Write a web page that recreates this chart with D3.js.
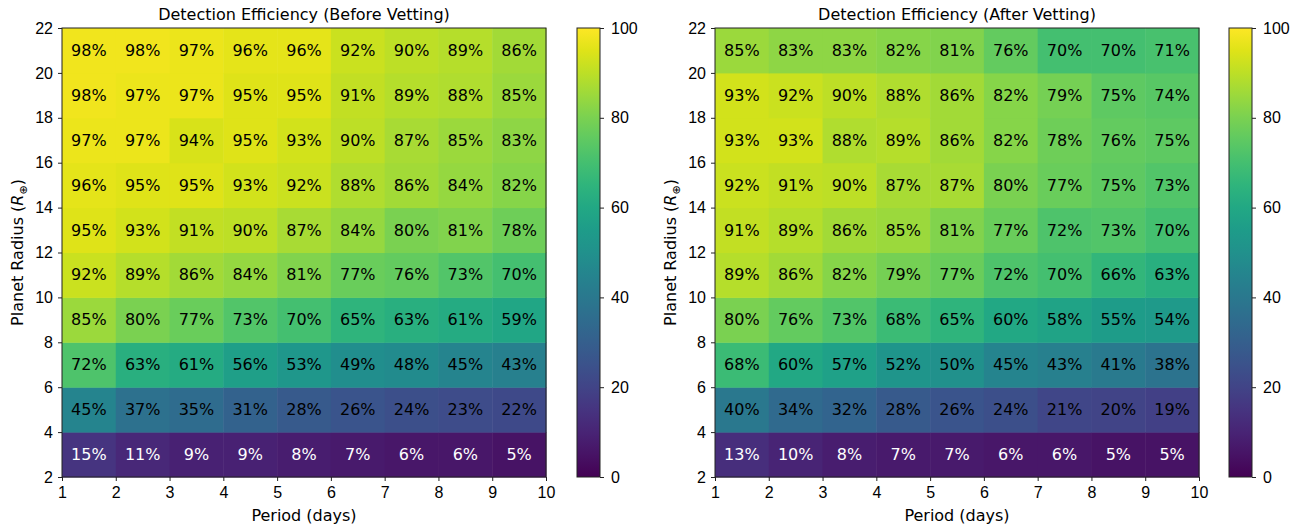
<!DOCTYPE html>
<html>
<head>
<meta charset="utf-8">
<script src="https://cdn.jsdelivr.net/npm/d3@7"></script>
<style>
  body { margin: 0; background: #fff; }
  svg { font-family: "DejaVu Sans", sans-serif; }
</style>
</head>
<body>
<svg width="1304" height="525"></svg>
<script>
// period bin edges (days) and radius bin edges (Earth radii)
var periodEdges = [1, 2, 3, 4, 5, 6, 7, 8, 9, 10];
var radiusEdges = [2, 4, 6, 8, 10, 12, 14, 16, 18, 20, 22];

// rows listed from smallest radius bin (2-4) to largest (20-22)
var beforeVetting = [
  [15, 11, 9, 9, 8, 7, 6, 6, 5],
  [45, 37, 35, 31, 28, 26, 24, 23, 22],
  [72, 63, 61, 56, 53, 49, 48, 45, 43],
  [85, 80, 77, 73, 70, 65, 63, 61, 59],
  [92, 89, 86, 84, 81, 77, 76, 73, 70],
  [95, 93, 91, 90, 87, 84, 80, 81, 78],
  [96, 95, 95, 93, 92, 88, 86, 84, 82],
  [97, 97, 94, 95, 93, 90, 87, 85, 83],
  [98, 97, 97, 95, 95, 91, 89, 88, 85],
  [98, 98, 97, 96, 96, 92, 90, 89, 86]
];

var afterVetting = [
  [13, 10, 8, 7, 7, 6, 6, 5, 5],
  [40, 34, 32, 28, 26, 24, 21, 20, 19],
  [68, 60, 57, 52, 50, 45, 43, 41, 38],
  [80, 76, 73, 68, 65, 60, 58, 55, 54],
  [89, 86, 82, 79, 77, 72, 70, 66, 63],
  [91, 89, 86, 85, 81, 77, 72, 73, 70],
  [92, 91, 90, 87, 87, 80, 77, 75, 73],
  [93, 93, 88, 89, 86, 82, 78, 76, 75],
  [93, 92, 90, 88, 86, 82, 79, 75, 74],
  [85, 83, 83, 82, 81, 76, 70, 70, 71]
];

var colorbarTicks = [0, 20, 40, 60, 80, 100];
var xTicks = [1, 2, 3, 4, 5, 6, 7, 8, 9, 10];
var yTicks = [2, 4, 6, 8, 10, 12, 14, 16, 18, 20, 22];

var svg = d3.select('svg');
var color = d3.scaleSequential(d3.interpolateViridis).domain([0, 100]);

// vertical viridis gradient for the colorbars
var grad = svg.append('defs')
  .append('linearGradient')
  .attr('id', 'cbgrad')
  .attr('x1', 0).attr('y1', 1).attr('x2', 0).attr('y2', 0);
grad.selectAll('stop')
  .data(d3.range(0, 101, 5))
  .enter()
  .append('stop')
  .attr('offset', function(d) { return d + '%'; })
  .attr('stop-color', function(d) { return color(d); });

var panels = [
  { title: 'Detection Efficiency (Before Vetting)', data: beforeVetting, left: 62, cbLeft: 577 },
  { title: 'Detection Efficiency (After Vetting)', data: afterVetting, left: 715, cbLeft: 1229 }
];

var plotTop = 28, plotH = 449, plotW = 484, cbW = 23;
var fs = '16px';

function drawPanel(p) {
  var x = d3.scaleLinear().domain([1, 10]).range([p.left, p.left + plotW]);
  var y = d3.scaleLinear().domain([2, 22]).range([plotTop + plotH, plotTop]);

  var cells = [];
  p.data.forEach(function(row, ri) {
    row.forEach(function(v, ci) {
      cells.push({ v: v, p0: periodEdges[ci], p1: periodEdges[ci + 1], r0: radiusEdges[ri], r1: radiusEdges[ri + 1] });
    });
  });

  var g = svg.append('g');
  g.selectAll('rect.cell')
    .data(cells)
    .enter()
    .append('rect')
    .attr('class', 'cell')
    .attr('x', function(d) { return x(d.p0); })
    .attr('y', function(d) { return y(d.r1); })
    .attr('width', function(d) { return x(d.p1) - x(d.p0) + 0.5; })
    .attr('height', function(d) { return y(d.r0) - y(d.r1) + 0.5; })
    .style('fill', function(d) { return color(d.v); });

  g.selectAll('text.val')
    .data(cells)
    .enter()
    .append('text')
    .attr('class', 'val')
    .attr('x', function(d) { return x((d.p0 + d.p1) / 2); })
    .attr('y', function(d) { return y((d.r0 + d.r1) / 2); })
    .attr('text-anchor', 'middle')
    .attr('dominant-baseline', 'central')
    .style('font-size', fs)
    .style('fill', function(d) { return d.v < 18 ? '#fff' : '#000'; })
    .text(function(d) { return d.v + '%'; });

  // frame
  g.append('rect')
    .attr('x', p.left).attr('y', plotTop)
    .attr('width', plotW).attr('height', plotH)
    .style('fill', 'none').style('stroke', '#222').style('stroke-width', 1);

  var xAxis = g.append('g')
    .attr('transform', 'translate(0,' + (plotTop + plotH) + ')')
    .call(d3.axisBottom(x).tickValues(xTicks).tickSize(4).tickPadding(6).tickFormat(d3.format('d')));
  var yAxis = g.append('g')
    .attr('transform', 'translate(' + p.left + ',0)')
    .call(d3.axisLeft(y).tickValues(yTicks).tickSize(4).tickPadding(5).tickFormat(d3.format('d')));
  [xAxis, yAxis].forEach(function(a) {
    a.select('.domain').remove();
    a.selectAll('text').style('font-size', fs).style('fill', '#000').attr('font-family', null);
    a.selectAll('line').style('stroke', '#222');
  });

  g.append('text')
    .attr('x', p.left + plotW / 2)
    .attr('y', plotTop - 8)
    .attr('text-anchor', 'middle')
    .style('font-size', fs)
    .text(p.title);

  g.append('text')
    .attr('x', p.left + plotW / 2)
    .attr('y', 521)
    .attr('text-anchor', 'middle')
    .style('font-size', fs)
    .text('Period (days)');

  var yl = g.append('text')
    .attr('transform', 'translate(' + (p.left - 39) + ',' + (plotTop + plotH / 2) + ') rotate(-90)')
    .attr('text-anchor', 'middle')
    .style('font-size', fs);
  yl.append('tspan').text('Planet Radius (');
  yl.append('tspan').style('font-style', 'italic').text('R');
  yl.append('tspan').attr('dy', 4).style('font-size', '11px').text('\u2295');
  yl.append('tspan').attr('dy', -4).text(')');

  // colorbar
  var cy = d3.scaleLinear().domain([0, 100]).range([plotTop + plotH, plotTop]);
  g.append('rect')
    .attr('x', p.cbLeft).attr('y', cy(100))
    .attr('width', cbW).attr('height', cy(0) - cy(100))
    .style('fill', 'url(#cbgrad)')
    .style('stroke', '#222').style('stroke-width', 1);
  var cAxis = g.append('g')
    .attr('transform', 'translate(' + (p.cbLeft + cbW) + ',0)')
    .call(d3.axisRight(cy).tickValues(colorbarTicks).tickSize(4).tickPadding(7));
  cAxis.select('.domain').remove();
  cAxis.selectAll('text').style('font-size', fs).style('fill', '#000').attr('font-family', null);
  cAxis.selectAll('line').style('stroke', '#222');
}

panels.forEach(drawPanel);
</script>
</body>
</html>
